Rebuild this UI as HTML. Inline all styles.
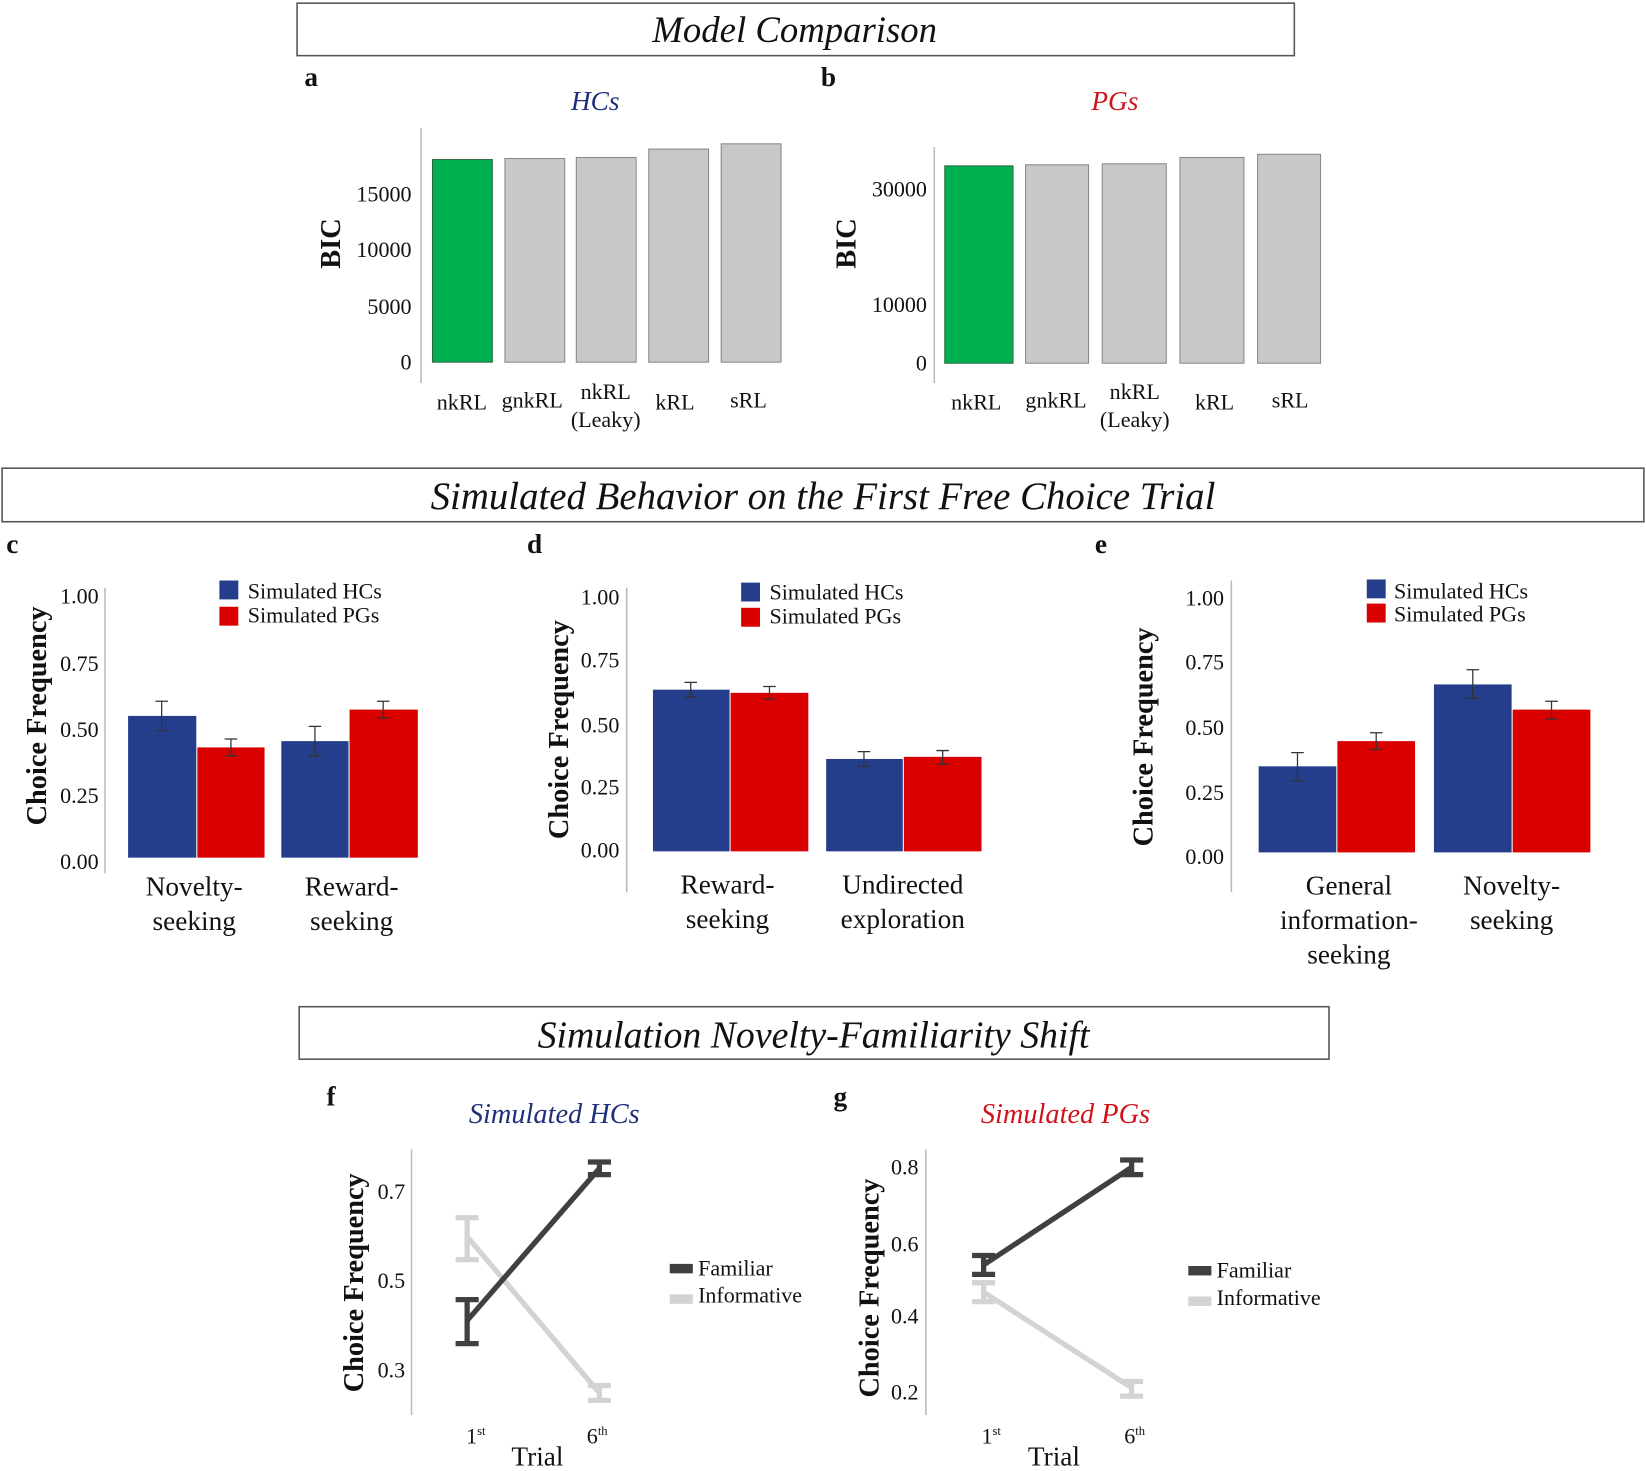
<!DOCTYPE html>
<html><head><meta charset="utf-8"><style>
html,body{margin:0;padding:0;background:#fff;}
svg{display:block;}
text{font-family:"Liberation Serif",serif;fill:#111;}
.t{font-size:21px;}
.l{font-size:26px;}
.it{font-style:italic;}
.b{font-weight:bold;}
</style></head><body>
<svg width="1646" height="1471" viewBox="0 0 1568 1401.3" xmlns="http://www.w3.org/2000/svg">
<rect x="283" y="3" width="950" height="50" fill="none" stroke="#555" stroke-width="1.5"/>
<text x="757" y="40" text-anchor="middle" class="it" font-size="35">Model Comparison</text>
<rect x="2" y="446" width="1564" height="51" fill="none" stroke="#555" stroke-width="1.5"/>
<text x="784" y="485" text-anchor="middle" class="it" font-size="37">Simulated Behavior on the First Free Choice Trial</text>
<rect x="285" y="959" width="981" height="50" fill="none" stroke="#555" stroke-width="1.5"/>
<text x="775" y="998" text-anchor="middle" class="it" font-size="36">Simulation Novelty-Familiarity Shift</text>

<text x="290" y="82" class="b" font-size="26">a</text>
<text x="567" y="105" text-anchor="middle" class="it" font-size="26" style="fill:#1f2f7a">HCs</text>
<line x1="401" y1="122" x2="401" y2="365" stroke="#bbb" stroke-width="1.5"/>
<g class="t" text-anchor="end">
<text x="392" y="352">0</text><text x="392" y="299">5000</text><text x="392" y="245">10000</text><text x="392" y="192">15000</text></g>
<text transform="translate(324,232) rotate(-90)" text-anchor="middle" class="b" font-size="27">BIC</text>
<rect x="412" y="152" width="57" height="193" fill="#00b050" stroke="#2a6a40"/>
<rect x="481" y="151" width="57" height="194" fill="#c8c8c8" stroke="#888"/>
<rect x="549" y="150" width="57" height="195" fill="#c8c8c8" stroke="#888"/>
<rect x="618" y="142" width="57" height="203" fill="#c8c8c8" stroke="#888"/>
<rect x="687" y="137" width="57" height="208" fill="#c8c8c8" stroke="#888"/>
<g class="t" text-anchor="middle">
<text x="440" y="390">nkRL</text><text x="507" y="388">gnkRL</text><text x="577" y="380">nkRL</text><text x="577" y="407">(Leaky)</text><text x="643" y="390">kRL</text><text x="713" y="388">sRL</text></g>

<text x="782" y="82" class="b" font-size="26">b</text>
<text x="1062" y="105" text-anchor="middle" class="it" font-size="26" style="fill:#d0121b">PGs</text>
<line x1="890" y1="140" x2="890" y2="365" stroke="#bbb" stroke-width="1.5"/>
<g class="t" text-anchor="end">
<text x="883" y="353">0</text><text x="883" y="297">10000</text><text x="883" y="187">30000</text></g>
<text transform="translate(815,232) rotate(-90)" text-anchor="middle" class="b" font-size="27">BIC</text>
<rect x="900" y="158" width="65" height="188" fill="#00b050" stroke="#2a6a40"/>
<rect x="977" y="157" width="60" height="189" fill="#c8c8c8" stroke="#888"/>
<rect x="1050" y="156" width="61" height="190" fill="#c8c8c8" stroke="#888"/>
<rect x="1124" y="150" width="61" height="196" fill="#c8c8c8" stroke="#888"/>
<rect x="1198" y="147" width="60" height="199" fill="#c8c8c8" stroke="#888"/>
<g class="t" text-anchor="middle">
<text x="930" y="390">nkRL</text><text x="1006" y="388">gnkRL</text><text x="1081" y="380">nkRL</text><text x="1081" y="407">(Leaky)</text><text x="1157" y="390">kRL</text><text x="1229" y="388">sRL</text></g>

<text x="6" y="527" class="b" font-size="26">c</text>
<line x1="100" y1="560" x2="100" y2="832" stroke="#bbb" stroke-width="1.5"/>
<g class="t" text-anchor="end">
<text x="94" y="575">1.00</text><text x="94" y="639">0.75</text><text x="94" y="702">0.50</text><text x="94" y="765">0.25</text><text x="94" y="828">0.00</text></g>
<text transform="translate(44,682) rotate(-90)" text-anchor="middle" class="b" font-size="27">Choice Frequency</text>
<rect x="122" y="682" width="65" height="135" fill="#253e8c"/>
<rect x="188" y="712" width="64" height="105" fill="#d90000"/>
<rect x="268" y="706" width="64" height="111" fill="#253e8c"/>
<rect x="333" y="676" width="65" height="141" fill="#d90000"/>
<g stroke="#333" stroke-width="1.2" fill="none">
<path d="M154 668V696M148 668H160M148 696H160"/>
<path d="M220 704V720M214 704H226M214 720H226"/>
<path d="M300 692V720M294 692H306M294 720H306"/>
<path d="M365 668V684M359 668H371M359 684H371"/></g>
<rect x="209" y="553" width="18" height="18" fill="#253e8c"/><rect x="209" y="578" width="18" height="18" fill="#d90000"/>
<text x="236" y="570" class="t">Simulated HCs</text><text x="236" y="593" class="t">Simulated PGs</text>
<g class="l" text-anchor="middle">
<text x="185" y="853">Novelty-</text><text x="185" y="886">seeking</text><text x="335" y="853">Reward-</text><text x="335" y="886">seeking</text></g>

<text x="502" y="527" class="b" font-size="26">d</text>
<line x1="597" y1="560" x2="597" y2="850" stroke="#bbb" stroke-width="1.5"/>
<g class="t" text-anchor="end">
<text x="590" y="576">1.00</text><text x="590" y="636">0.75</text><text x="590" y="698">0.50</text><text x="590" y="757">0.25</text><text x="590" y="817">0.00</text></g>
<text transform="translate(541,695) rotate(-90)" text-anchor="middle" class="b" font-size="27">Choice Frequency</text>
<rect x="622" y="657" width="73" height="154" fill="#253e8c"/>
<rect x="696" y="660" width="74" height="151" fill="#d90000"/>
<rect x="787" y="723" width="73" height="88" fill="#253e8c"/>
<rect x="861" y="721" width="74" height="90" fill="#d90000"/>
<g stroke="#333" stroke-width="1.2" fill="none">
<path d="M658 650V664M652 650H664M652 664H664"/>
<path d="M733 654V666M727 654H739M727 666H739"/>
<path d="M823 716V730M817 716H829M817 730H829"/>
<path d="M898 715V728M892 715H904M892 728H904"/></g>
<rect x="706" y="555" width="18" height="18" fill="#253e8c"/><rect x="706" y="579" width="18" height="18" fill="#d90000"/>
<text x="733" y="571" class="t">Simulated HCs</text><text x="733" y="594" class="t">Simulated PGs</text>
<g class="l" text-anchor="middle">
<text x="693" y="851">Reward-</text><text x="693" y="884">seeking</text><text x="860" y="851">Undirected</text><text x="860" y="884">exploration</text></g>

<text x="1043" y="527" class="b" font-size="26">e</text>
<line x1="1173" y1="553" x2="1173" y2="850" stroke="#bbb" stroke-width="1.5"/>
<g class="t" text-anchor="end">
<text x="1166" y="577">1.00</text><text x="1166" y="638">0.75</text><text x="1166" y="700">0.50</text><text x="1166" y="762">0.25</text><text x="1166" y="823">0.00</text></g>
<text transform="translate(1098,702) rotate(-90)" text-anchor="middle" class="b" font-size="27">Choice Frequency</text>
<rect x="1199" y="730" width="74" height="82" fill="#253e8c"/>
<rect x="1274" y="706" width="74" height="106" fill="#d90000"/>
<rect x="1366" y="652" width="74" height="160" fill="#253e8c"/>
<rect x="1441" y="676" width="74" height="136" fill="#d90000"/>
<g stroke="#333" stroke-width="1.2" fill="none">
<path d="M1236 717V744M1230 717H1242M1230 744H1242"/>
<path d="M1311 698V714M1305 698H1317M1305 714H1317"/>
<path d="M1403 638V665M1397 638H1409M1397 665H1409"/>
<path d="M1478 668V685M1472 668H1484M1472 685H1484"/></g>
<rect x="1302" y="552" width="18" height="18" fill="#253e8c"/><rect x="1302" y="575" width="18" height="18" fill="#d90000"/>
<text x="1328" y="570" class="t">Simulated HCs</text><text x="1328" y="592" class="t">Simulated PGs</text>
<g class="l" text-anchor="middle">
<text x="1285" y="852">General</text><text x="1285" y="885">information-</text><text x="1285" y="918">seeking</text><text x="1440" y="852">Novelty-</text><text x="1440" y="885">seeking</text></g>

<text x="311" y="1053" class="b" font-size="26">f</text>
<text x="528" y="1070" text-anchor="middle" class="it" font-size="27" style="fill:#1f2f7a">Simulated HCs</text>
<line x1="392" y1="1095" x2="392" y2="1348" stroke="#bbb" stroke-width="1.5"/>
<g class="t" text-anchor="end">
<text x="386" y="1142">0.7</text><text x="386" y="1227">0.5</text><text x="386" y="1312">0.3</text></g>
<text transform="translate(346,1222) rotate(-90)" text-anchor="middle" class="b" font-size="27">Choice Frequency</text>
<g stroke="#d3d3d3" stroke-width="5" fill="none">
<path d="M445 1178L571 1327"/><path d="M445 1160V1200M434 1160H456M434 1200H456"/><path d="M571 1320V1334M560 1320H582M560 1334H582"/></g>
<g stroke="#404040" stroke-width="5" fill="none">
<path d="M445 1258L571 1113"/><path d="M445 1238V1280M434 1238H456M434 1280H456"/><path d="M571 1107V1119M560 1107H582M560 1119H582"/></g>
<rect x="638" y="1204" width="22" height="9" fill="#404040"/><rect x="638" y="1233" width="22" height="9" fill="#d3d3d3"/>
<text x="665" y="1215" class="t">Familiar</text><text x="665" y="1241" class="t">Informative</text>
<text x="444" y="1375" class="t">1<tspan font-size="12" dy="-8">st</tspan></text>
<text x="559" y="1375" class="t">6<tspan font-size="12" dy="-8">th</tspan></text>
<text x="512" y="1396" text-anchor="middle" class="l">Trial</text>

<text x="794" y="1053" class="b" font-size="26">g</text>
<text x="1015" y="1070" text-anchor="middle" class="it" font-size="27" style="fill:#d0121b">Simulated PGs</text>
<line x1="882" y1="1095" x2="882" y2="1348" stroke="#bbb" stroke-width="1.5"/>
<g class="t" text-anchor="end">
<text x="875" y="1119">0.8</text><text x="875" y="1192">0.6</text><text x="875" y="1261">0.4</text><text x="875" y="1333">0.2</text></g>
<text transform="translate(837,1227) rotate(-90)" text-anchor="middle" class="b" font-size="27">Choice Frequency</text>
<g stroke="#d3d3d3" stroke-width="5" fill="none">
<path d="M937 1231L1078 1322"/><path d="M937 1222V1240M926 1222H948M926 1240H948"/><path d="M1078 1316V1330M1067 1316H1089M1067 1330H1089"/></g>
<g stroke="#404040" stroke-width="5" fill="none">
<path d="M937 1205L1078 1112"/><path d="M937 1196V1214M926 1196H948M926 1214H948"/><path d="M1078 1105V1119M1067 1105H1089M1067 1119H1089"/></g>
<rect x="1132" y="1206" width="22" height="9" fill="#404040"/><rect x="1132" y="1235" width="22" height="9" fill="#d3d3d3"/>
<text x="1159" y="1217" class="t">Familiar</text><text x="1159" y="1243" class="t">Informative</text>
<text x="935" y="1375" class="t">1<tspan font-size="12" dy="-8">st</tspan></text>
<text x="1071" y="1375" class="t">6<tspan font-size="12" dy="-8">th</tspan></text>
<text x="1004" y="1396" text-anchor="middle" class="l">Trial</text>
</svg>
</body></html>
